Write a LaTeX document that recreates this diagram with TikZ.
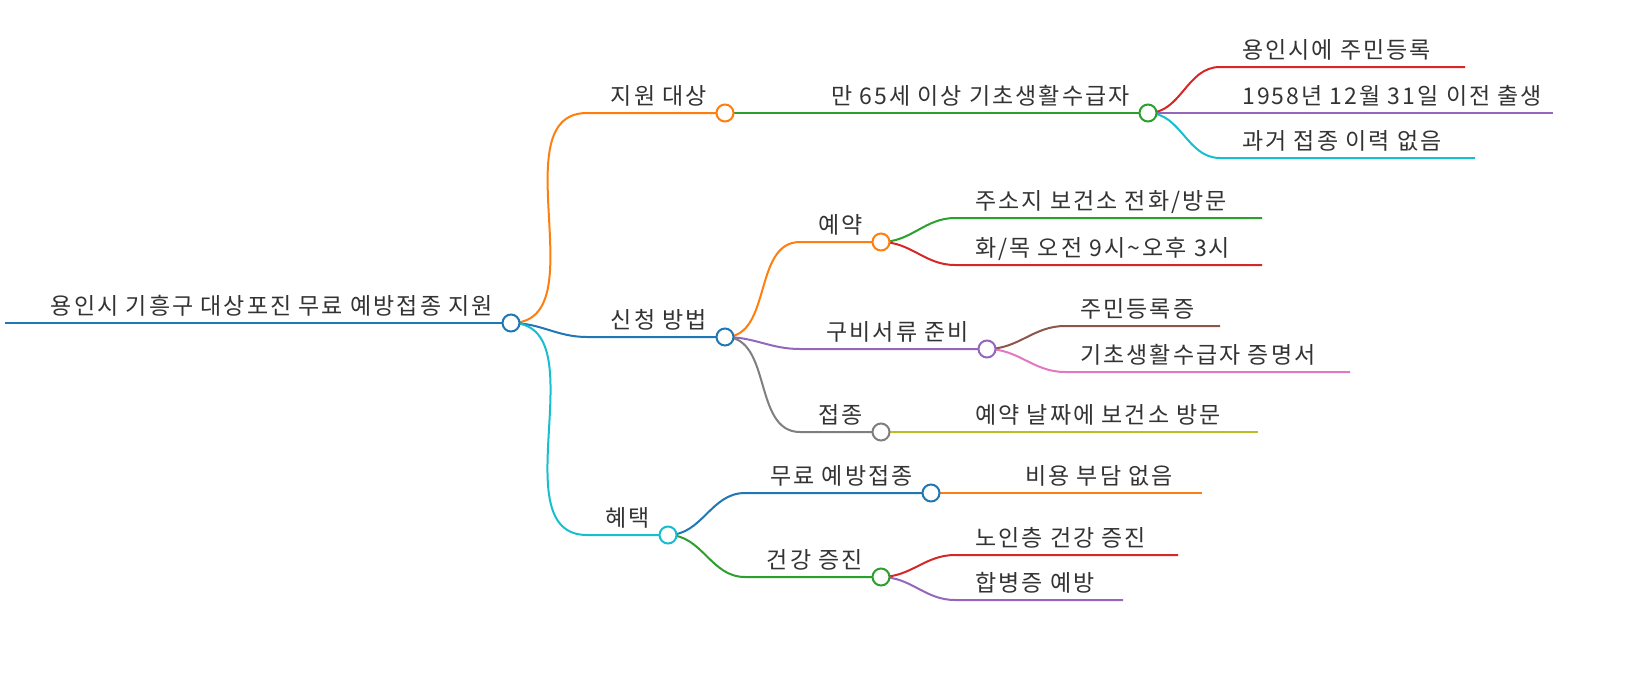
\documentclass[tikz,border=0pt]{standalone}
\usepackage{fontspec}
\usetikzlibrary{calc}
\setmainfont[LetterSpace=9]{Noto Sans CJK KR}
\definecolor{cB}{HTML}{1F77B4}\definecolor{cO}{HTML}{FF7F0E}\definecolor{cG}{HTML}{2CA02C}
\definecolor{cR}{HTML}{D62728}\definecolor{cP}{HTML}{9467BD}\definecolor{cBr}{HTML}{8C564B}
\definecolor{cPk}{HTML}{E377C2}\definecolor{cGr}{HTML}{7F7F7F}\definecolor{cOl}{HTML}{BCBD22}
\definecolor{cC}{HTML}{17BECF}\definecolor{txt}{HTML}{333333}
\tikzset{
 ln/.style={line width=2pt},
 cn/.style={ln,out=0,in=180},
 dot/.style={circle,draw,line width=2pt,fill=white,minimum size=17pt,inner sep=0pt},
 lbl/.style={text=txt,font=\fontsize{23}{26}\selectfont,inner sep=0pt},
 rl/.style={lbl,anchor=base east},
 ll/.style={lbl,anchor=base west},
}
\begin{document}
\begin{tikzpicture}[x=1pt,y=-1pt]
% coordinates
\coordinate (r0) at (5,323); \coordinate (r) at (511,323);
\coordinate (a0) at (587,113); \coordinate (a) at (725,113);
\coordinate (b0) at (587,337); \coordinate (b) at (725,337);
\coordinate (c0) at (587,535); \coordinate (c) at (668,535);
\coordinate (a1) at (1148,113);
\coordinate (a11) at (1220,67); \coordinate (a11e) at (1465,67);
\coordinate (a12) at (1220,113); \coordinate (a12e) at (1553,113);
\coordinate (a13) at (1220,158); \coordinate (a13e) at (1475,158);
\coordinate (b10) at (800,242); \coordinate (b1) at (881,242);
\coordinate (b11) at (955,218); \coordinate (b11e) at (1262,218);
\coordinate (b12) at (955,265); \coordinate (b12e) at (1262,265);
\coordinate (b20) at (800,349); \coordinate (b2) at (987,349);
\coordinate (b21) at (1065,326); \coordinate (b21e) at (1220,326);
\coordinate (b22) at (1065,372); \coordinate (b22e) at (1350,372);
\coordinate (b30) at (800,432); \coordinate (b3) at (881,432);
\coordinate (b31e) at (1258,432);
\coordinate (c10) at (745,493); \coordinate (c1) at (931,493);
\coordinate (c11e) at (1202,493);
\coordinate (c20) at (745,577); \coordinate (c2) at (881,577);
\coordinate (c21) at (955,555); \coordinate (c21e) at (1178,555);
\coordinate (c22) at (955,600); \coordinate (c22e) at (1123,600);
% lines
\draw[ln,cB] (r0) -- (r);
\draw[ln,cO] (r) to[cn] (a0) -- (a);
\draw[ln,cB] (r) to[cn] (b0) -- (b);
\draw[ln,cC] (r) to[cn] (c0) -- (c);
\draw[ln,cG] (a) -- (a1);
\draw[ln,cR] (a1) to[cn] (a11) -- (a11e);
\draw[ln,cP] (a1) to[cn] (a12) -- (a12e);
\draw[ln,cC] (a1) to[cn] (a13) -- (a13e);
\draw[ln,cO] (b) to[cn] (b10) -- (b1);
\draw[ln,cG] (b1) to[cn] (b11) -- (b11e);
\draw[ln,cR] (b1) to[cn] (b12) -- (b12e);
\draw[ln,cP] (b) to[cn] (b20) -- (b2);
\draw[ln,cBr] (b2) to[cn] (b21) -- (b21e);
\draw[ln,cPk] (b2) to[cn] (b22) -- (b22e);
\draw[ln,cGr] (b) to[cn] (b30) -- (b3);
\draw[ln,cOl] (b3) -- (b31e);
\draw[ln,cB] (c) to[cn] (c10) -- (c1);
\draw[ln,cO] (c1) -- (c11e);
\draw[ln,cG] (c) to[cn] (c20) -- (c2);
\draw[ln,cR] (c2) to[cn] (c21) -- (c21e);
\draw[ln,cP] (c2) to[cn] (c22) -- (c22e);
% dots
\foreach \p/\c in {r/cB,a/cO,b/cB,c/cC,a1/cG,b1/cO,b2/cP,b3/cGr,c1/cB,c2/cG}
  \node[dot,draw=\c] (d\p) at (\p) {};
% labels
\node[rl] (tr) at ($(r)+(-18,-9)$) {용인시 기흥구 대상포진 무료 예방접종 지원};
\node[rl] (ta) at ($(a)+(-18,-9)$) {지원 대상};
\node[rl] (tb) at ($(b)+(-18,-9)$) {신청 방법};
\node[rl] (tc) at ($(c)+(-18,-9)$) {혜택};
\node[rl] (ta1) at ($(a1)+(-18,-9)$) {만 65세 이상 기초생활수급자};
\node[rl] (tb1) at ($(b1)+(-18,-9)$) {예약};
\node[rl] (tb2) at ($(b2)+(-18,-9)$) {구비서류 준비};
\node[rl] (tb3) at ($(b3)+(-18,-9)$) {접종};
\node[rl] (tc1) at ($(c1)+(-18,-9)$) {무료 예방접종};
\node[rl] (tc2) at ($(c2)+(-18,-9)$) {건강 증진};
\node[ll] (ta11) at ($(a11)+(22,-9)$) {용인시에 주민등록};
\node[ll] (ta12) at ($(a12)+(22,-9)$) {1958년 12월 31일 이전 출생};
\node[ll] (ta13) at ($(a13)+(22,-9)$) {과거 접종 이력 없음};
\node[ll] (tb11) at ($(b11)+(20,-9)$) {주소지 보건소 전화/방문};
\node[ll] (tb12) at ($(b12)+(20,-9)$) {화/목 오전 9시\char"007E{}오후 3시};
\node[ll] (tb21) at ($(b21)+(15,-9)$) {주민등록증};
\node[ll] (tb22) at ($(b22)+(15,-9)$) {기초생활수급자 증명서};
\node[ll] (tb31) at (975,423) {예약 날짜에 보건소 방문};
\node[ll] (tc11) at (1025,484) {비용 부담 없음};
\node[ll] (tc21) at ($(c21)+(20,-9)$) {노인층 건강 증진};
\node[ll] (tc22) at ($(c22)+(20,-9)$) {합병증 예방};
\pgfresetboundingbox
\path[use as bounding box] (0,0) rectangle (1635,675);
\end{tikzpicture}
\end{document}
